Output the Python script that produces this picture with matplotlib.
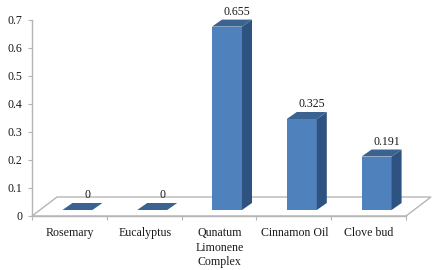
import matplotlib.pyplot as plt
from matplotlib.patches import Polygon

categories = ["Rosemary", "Eucalyptus", "Qunatum\nLimonene\nComplex", "Cinnamon Oil", "Clove bud"]
values = [0, 0, 0.655, 0.325, 0.191]
y_ticks = [0, 0.1, 0.2, 0.3, 0.4, 0.5, 0.6, 0.7]
y_labels = ["0", "0.1", "0.2", "0.3", "0.4", "0.5", "0.6", "0.7"]

W, H = 437, 270
FRONT = "#4f81bd"
SIDE = "#2f5380"
TOP = "#3b6391"
GRID = "#b5b5b5"
FONT = 8.6

plt.rcParams["font.family"] = "Liberation Serif"
plt.rcParams["font.size"] = FONT

fig = plt.figure(figsize=(W / 100, H / 100), dpi=100)
ax = fig.add_axes([32 / W, 1 - 216 / H, 374 / W, 196 / H])
ax.set_xlim(-0.5, 4.5)
ax.set_ylim(0, 0.7)

# pixel to data scale for the fake 3d depth
px_x = 5 / 374
px_y = 0.7 / 196
floor_dx, floor_dy = 25 * px_x, 19 * px_y
bar_base = 6 * px_y
bar_shift = 8 * px_x
bar_w = 30 * px_x
dep_x, dep_y = 10 * px_x, 7 * px_y

ax.add_patch(Polygon(
    [(-0.5, 0), (-0.5 + floor_dx, floor_dy), (4.5 + floor_dx, floor_dy), (4.5, 0)],
    closed=True, facecolor="white", edgecolor=GRID, linewidth=1.0, clip_on=False, zorder=1,
))

for i, v in enumerate(values):
    left = i + bar_shift - bar_w / 2
    right = left + bar_w
    top = bar_base + v
    if v > 0:
        ax.bar(left, v, width=bar_w, bottom=bar_base, align="edge", color=FRONT, zorder=3, clip_on=False)
        ax.add_patch(Polygon(
            [(right, bar_base), (right + dep_x, bar_base + dep_y), (right + dep_x, top + dep_y), (right, top)],
            closed=True, facecolor=SIDE, edgecolor="none", clip_on=False, zorder=3,
        ))
    ax.add_patch(Polygon(
        [(left, top), (left + dep_x, top + dep_y), (right + dep_x, top + dep_y), (right, top)],
        closed=True, facecolor=TOP, edgecolor="none", clip_on=False, zorder=3,
    ))
    ax.annotate(str(v), (left + bar_w / 2 + dep_x, top + dep_y), xytext=(0, 2), textcoords="offset pixels",
                ha="center", va="bottom", fontsize=FONT, color="#1a1a1a", annotation_clip=False, zorder=4)

ax.set_yticks(y_ticks)
ax.set_yticklabels(y_labels, color="#1a1a1a")
ax.set_xticks([x - 0.5 for x in range(6)], minor=False)
ax.set_xticklabels([])
ax.tick_params(axis="both", length=3, width=0.8, color=GRID, pad=2)
ax.tick_params(axis="y", pad=4)

for i, name in enumerate(categories):
    ax.annotate(name, (i, 0), xytext=(0.5, -11), textcoords="offset pixels", ha="center", va="top",
                fontsize=FONT, linespacing=1.28, color="#1a1a1a", annotation_clip=False)

for s in ["top", "right"]:
    ax.spines[s].set_visible(False)
for s in ["left", "bottom"]:
    ax.spines[s].set_color(GRID)
    ax.spines[s].set_linewidth(1.0)
ax.patch.set_visible(False)

fig.savefig("out.png", dpi=100)
plt.close(fig)
